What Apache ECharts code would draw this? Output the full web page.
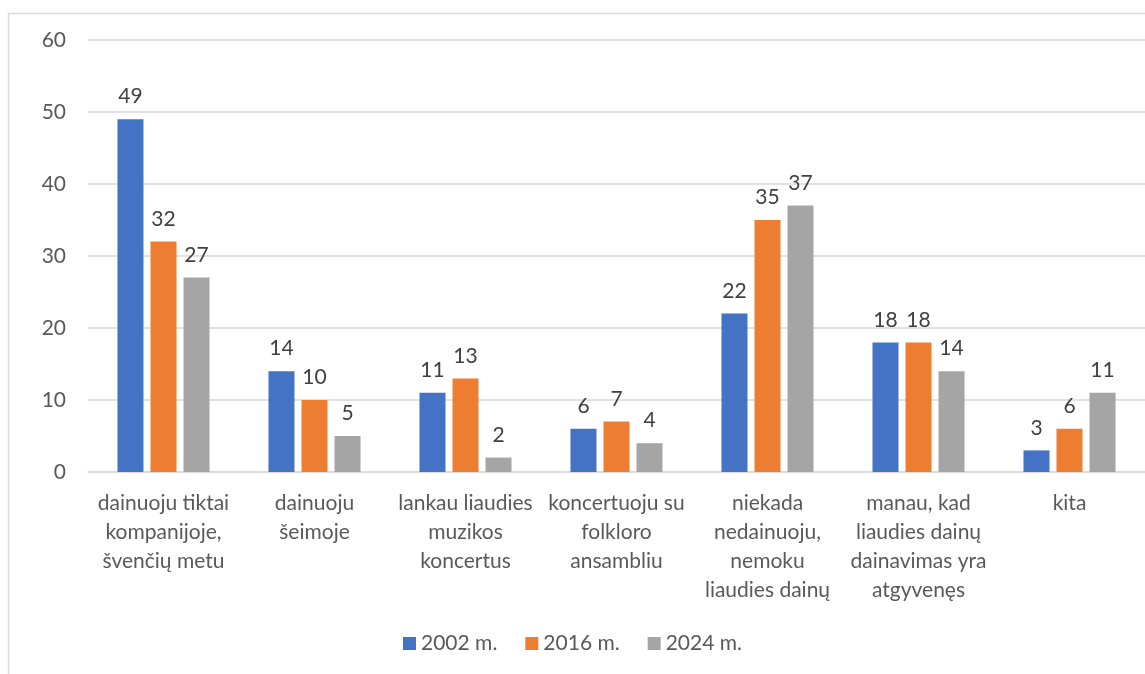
<!DOCTYPE html>
<html>
<head>
<meta charset="utf-8">
<script src="https://cdn.jsdelivr.net/npm/echarts@6/dist/echarts.min.js"></script>
<style>
  html, body { margin: 0; padding: 0; background: #fff; }
  #myChart { width: 1145px; height: 674px; }
</style>
</head>
<body>
<div id="myChart"></div>
<script>
var categories = [
  'dainuoju tiktai\nkompanijoje,\nšvenčių metu',
  'dainuoju\nšeimoje',
  'lankau liaudies\nmuzikos\nkoncertus',
  'koncertuoju su\nfolkloro\nansambliu',
  'niekada\nnedainuoju,\nnemoku\nliaudies dainų',
  'manau, kad\nliaudies dainų\ndainavimas yra\natgyvenęs',
  'kita'
];
var values2002 = [49, 14, 11, 6, 22, 18, 3];
var values2016 = [32, 10, 13, 7, 35, 18, 6];
var values2024 = [27, 5, 2, 4, 37, 14, 11];
var seriesNames = ['2002 m.', '2016 m.', '2024 m.'];
var colors = ['#4472C4', '#ED7D31', '#A5A5A5'];

var font = 'Lato, "Open Sans", sans-serif';

function makeSeries(name, data, color) {
  return {
    name: name,
    type: 'bar',
    data: data,
    barWidth: 26,
    barGap: '27%',
    itemStyle: { color: color },
    label: {
      show: true,
      position: 'top',
      distance: 12,
      color: '#404040',
      fontSize: 21,
      fontFamily: font
    }
  };
}

var option = {
  animation: false,
  textStyle: { fontFamily: font },
  graphic: [{
    type: 'rect',
    left: 6,
    top: 11,
    shape: { width: 1200, height: 700 },
    style: { fill: 'none', stroke: '#D9D9D9', lineWidth: 1.5 },
    silent: true
  }],
  grid: {
    left: 88,
    right: -7,
    top: 40,
    bottom: 202,
    containLabel: false
  },
  legend: {
    bottom: 15,
    left: 'center',
    itemWidth: 13,
    itemHeight: 13,
    itemGap: 28,
    icon: 'rect',
    textStyle: { color: '#595959', fontSize: 21, fontFamily: font },
    data: seriesNames
  },
  xAxis: {
    type: 'category',
    data: categories,
    axisTick: { show: false },
    axisLine: { lineStyle: { color: '#D9D9D9', width: 1.5 } },
    axisLabel: {
      color: '#595959',
      fontSize: 21,
      fontFamily: font,
      lineHeight: 29,
      margin: 17,
      interval: 0
    }
  },
  yAxis: {
    type: 'value',
    min: 0,
    max: 60,
    interval: 10,
    axisLine: { show: false },
    axisTick: { show: false },
    splitLine: { lineStyle: { color: '#D9D9D9', width: 1.5 } },
    axisLabel: {
      color: '#595959',
      fontSize: 21,
      fontFamily: font,
      margin: 22
    }
  },
  series: [
    makeSeries(seriesNames[0], values2002, colors[0]),
    makeSeries(seriesNames[1], values2016, colors[1]),
    makeSeries(seriesNames[2], values2024, colors[2])
  ]
};

var myChart = echarts.init(document.getElementById('myChart'));
myChart.setOption(option);
</script>
</body>
</html>
